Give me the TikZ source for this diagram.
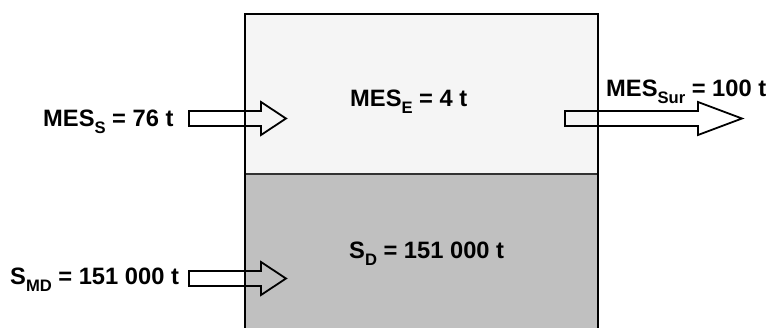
\documentclass[tikz,border=0pt]{standalone}
\usepackage{fontspec}
\setmainfont{Liberation Sans}
\newcommand{\lowsub}[1]{\raisebox{-0.27em}{\fontsize{16.6pt}{18pt}\selectfont #1}}
\begin{document}
\begin{tikzpicture}[x=1pt,y=-1pt,
  lbl/.style={anchor=base west,inner sep=0pt,font=\fontsize{23.7pt}{26pt}\selectfont\bfseries},
  blockarrow/.style={draw=black,line width=1.8pt,line join=miter},
  boxline/.style={draw=black,line width=2pt}]
\useasboundingbox (0,0) rectangle (769,328);
\clip (0,0) rectangle (769,328);
% tank
\fill[fill={rgb,255:red,245;green,245;blue,245}] (245,14) rectangle (598,174);
\fill[fill={rgb,255:red,192;green,192;blue,192}] (245,174) rectangle (598,340);
\draw[draw={rgb,255:red,50;green,50;blue,50},line width=1.5pt] (245,174) -- (598,174);
\draw[boxline] (245,340) -- (245,14) -- (598,14) -- (598,340);
% arrows
\draw[blockarrow] (189,111) -- (261,111) -- (261,102) -- (286,118.5) -- (261,135) -- (261,126) -- (189,126) -- cycle;
\draw[blockarrow] (189,271) -- (261,271) -- (261,262) -- (286,278.5) -- (261,295) -- (261,286) -- (189,286) -- cycle;
\draw[blockarrow] (565,111) -- (698,111) -- (698,102) -- (742,118.5) -- (698,135) -- (698,126) -- (565,126) -- cycle;
% labels
\node[lbl] (mess) at (43,127) {MES\lowsub{S} = 76 t};
\node[lbl] (smd) at (10,285) {S\lowsub{MD} = 151 000 t};
\node[lbl] (mese) at (350,107) {MES\lowsub{E} = 4 t};
\node[lbl] (messur) at (606,97) {MES\lowsub{Sur} = 100 t};
\node[lbl] (sd) at (349,259) {S\lowsub{D} = 151 000 t};
\end{tikzpicture}
\end{document}
